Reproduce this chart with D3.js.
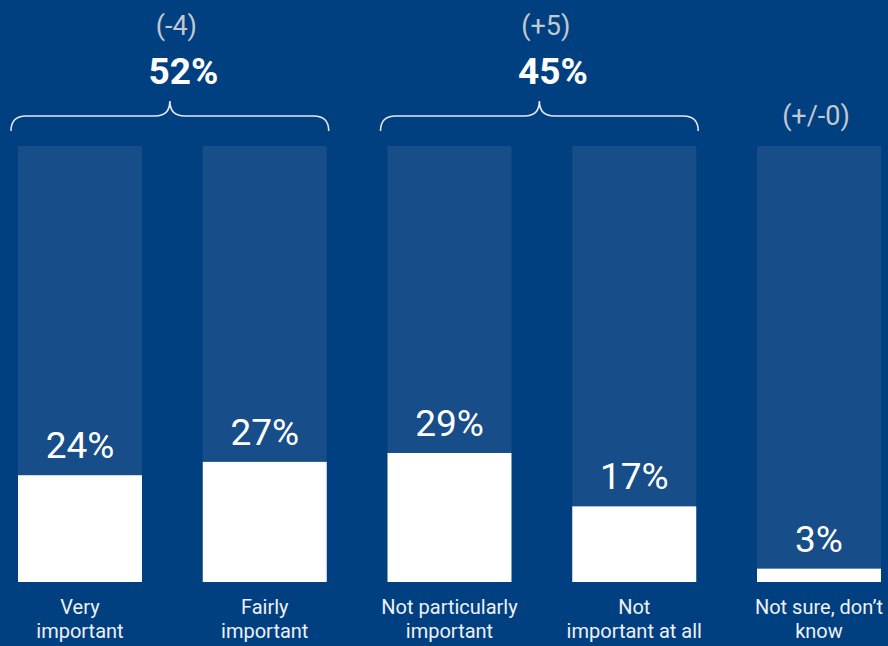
<!DOCTYPE html>
<html>
<head>
<meta charset="utf-8">
<script src="https://cdn.jsdelivr.net/npm/d3@7/dist/d3.min.js"></script>
<style>
  html, body { margin: 0; padding: 0; background: #004080; }
  svg { display: block; }
  text { font-family: Roboto, "Noto Sans", sans-serif; }
</style>
</head>
<body>
<script>
// ---- data ----
const categories = ["Very\nimportant", "Fairly\nimportant", "Not particularly\nimportant", "Not\nimportant at all", "Not sure, don\u2019t\nknow"];
const values = [24, 27, 29, 17, 3];
const groupMembers = [[0, 1], [2, 3], [4]];
const groupTotals = ["52%", "45%", null];
const groupChanges = ["(-4)", "(+5)", "(+/-0)"];
const trackMax = 98;

// ---- layout ----
const W = 888, H = 646;
const bgColor = "#004080";
const trackColor = "#174e89";
const svg = d3.select("body").append("svg").attr("width", W).attr("height", H);
svg.append("rect").attr("width", W).attr("height", H).attr("fill", bgColor);

const x = d3.scaleBand().domain(d3.range(categories.length)).range([18, 881]).paddingInner(0.329).paddingOuter(0);
const y = d3.scaleLinear().domain([0, trackMax]).range([582, 146]);

// tracks
svg.selectAll("rect.track").data(values).join("rect")
  .attr("class", "track")
  .attr("x", (d, i) => x(i)).attr("width", x.bandwidth())
  .attr("y", y(trackMax)).attr("height", y(0) - y(trackMax))
  .attr("fill", trackColor);

// bars
svg.selectAll("rect.bar").data(values).join("rect")
  .attr("class", "bar")
  .attr("x", (d, i) => x(i)).attr("width", x.bandwidth())
  .attr("y", d => y(d)).attr("height", d => y(0) - y(d))
  .attr("fill", "#ffffff");

// value labels
svg.selectAll("text.val").data(values).join("text")
  .attr("class", "val")
  .attr("x", (d, i) => x(i) + x.bandwidth() / 2)
  .attr("y", d => y(d) - 17)
  .attr("text-anchor", "middle")
  .attr("fill", "#ffffff")
  .attr("font-size", 37)
  .text(d => d + "%");

// category labels
const cat = svg.selectAll("text.cat").data(categories).join("text")
  .attr("class", "cat")
  .attr("text-anchor", "middle")
  .attr("fill", "#eef1f5")
  .attr("font-size", 20);
cat.each(function (d, i) {
  const lines = d.split("\n");
  d3.select(this).selectAll("tspan").data(lines).join("tspan")
    .attr("x", x(i) + x.bandwidth() / 2)
    .attr("y", (l, j) => 614 + j * 24)
    .text(l => l);
});

// group annotations
groupMembers.forEach((m, g) => {
  const left = x(m[0]);
  const right = x(m[m.length - 1]) + x.bandwidth();
  const gc = (left + right) / 2;
  if (groupTotals[g]) {
    const x0 = left - 7, x1 = right + 2;
    const c = (x0 + x1) / 2;
    const yb = 131, yl = 116, yt = 101, r = 15;
    const p = d3.path();
    p.moveTo(x0, yb);
    p.quadraticCurveTo(x0, yl, x0 + r, yl);
    p.lineTo(c - r, yl);
    p.quadraticCurveTo(c, yl, c, yt);
    p.quadraticCurveTo(c, yl, c + r, yl);
    p.lineTo(x1 - r, yl);
    p.quadraticCurveTo(x1, yl, x1, yb);
    svg.append("path").attr("d", p.toString())
      .attr("fill", "none").attr("stroke", "#e3e8ef").attr("stroke-width", 1.6);
    svg.append("text")
      .attr("x", gc + 4).attr("y", 35)
      .attr("text-anchor", "middle").attr("fill", "#c3c8d0")
      .attr("font-size", 27).attr("font-weight", 400)
      .text(groupChanges[g]);
    svg.append("text")
      .attr("x", gc + 11).attr("y", 84)
      .attr("text-anchor", "middle").attr("fill", "#ffffff")
      .attr("font-size", 37).attr("font-weight", 700)
      .text(groupTotals[g]);
  } else {
    svg.append("text")
      .attr("x", gc - 3).attr("y", 125)
      .attr("text-anchor", "middle").attr("fill", "#c3c8d0")
      .attr("font-size", 27).attr("font-weight", 400)
      .text(groupChanges[g]);
  }
});
</script>
</body>
</html>
